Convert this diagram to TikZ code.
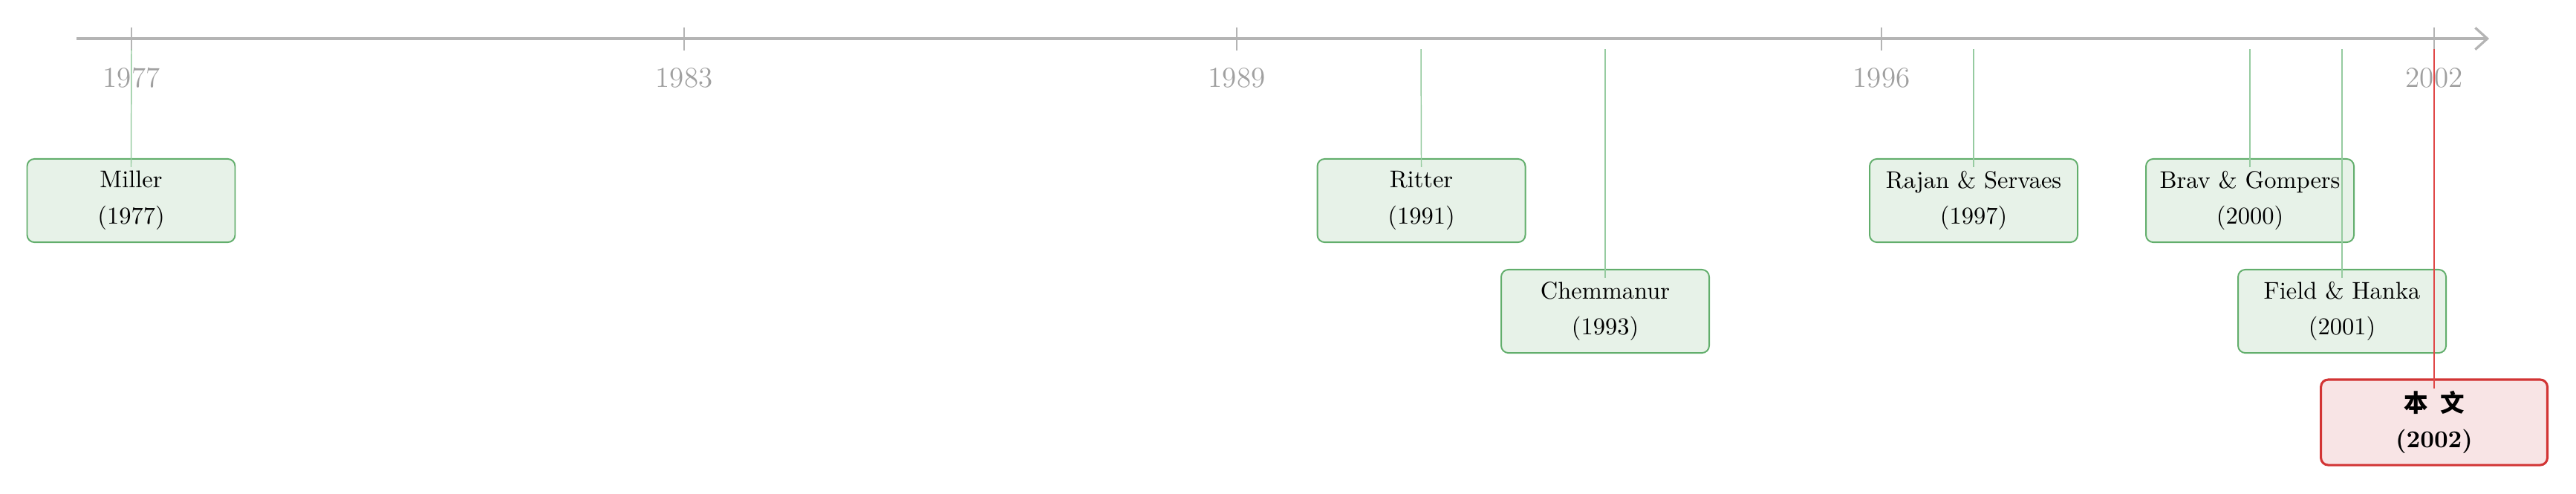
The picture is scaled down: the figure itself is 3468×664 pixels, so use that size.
\documentclass[tikz,border=0pt]{standalone}
\usepackage{fontspec}
\newfontfamily\cjk{Noto Sans CJK SC}
\usetikzlibrary{arrows.meta,calc}
\definecolor{axisgray}{HTML}{B4B4B4}
\definecolor{yeargray}{HTML}{A0A0A0}
\definecolor{gborder}{HTML}{62AE6C}
\definecolor{gfill}{HTML}{E7F2E8}
\definecolor{gline}{HTML}{96CBA0}
\definecolor{rborder}{HTML}{D23434}
\definecolor{rfill}{HTML}{F8E4E5}
\definecolor{rline}{HTML}{E04848}
\tikzset{
  paperbox/.style={draw=gborder, fill=gfill, line width=0.6pt, rounded corners=3pt,
    minimum width=86.15pt, minimum height=34.5pt, align=center, inner sep=2pt,
    font=\fontsize{10}{15}\selectfont},
  ourbox/.style={draw=rborder, fill=rfill, line width=0.95pt, rounded corners=3pt,
    minimum width=93.8pt, minimum height=35.4pt, align=center, inner sep=2pt,
    font=\fontsize{10}{15}\selectfont\bfseries},
  yearlabel/.style={text=yeargray, font=\fontsize{12}{14}\selectfont, inner sep=0pt},
  axisline/.style={draw=axisgray, line width=1pt},
  tickline/.style={draw=axisgray, line width=0.4pt},
  gconn/.style={draw=gline, line width=0.45pt},
  rconn/.style={draw=rline, line width=0.55pt}
}
\begin{document}
\begin{tikzpicture}[x=0.3077pt, y=-0.3077pt]
\useasboundingbox (0,0) rectangle (3468,664);
% axis
\coordinate (axs) at (103,52);
\coordinate (axe) at (3351,52);
\draw[axisline, -{Straight Barb[length=5pt,width=9pt,line width=1pt]}] (axs) -- (axe);
% ticks and year labels
\foreach \yr/\xx in {1977/177, 1983/921, 1989/1665, 1996/2533, 2002/3277}{
  \coordinate (tk\yr a) at (\xx,37);
  \coordinate (tk\yr b) at (\xx,68);
  \draw[tickline] (tk\yr a) -- (tk\yr b);
  \node[yearlabel] (yl\yr) at (\xx,105) {\yr};
}
% boxes
\node[paperbox] (miller) at (176.5,270) {Miller\\(1977)};
\node[paperbox] (ritter) at (1913.5,270) {Ritter\\(1991)};
\node[paperbox] (chem) at (2161,419) {Chemmanur\\(1993)};
\node[paperbox] (rajan) at (2657,270) {Rajan \& Servaes\\(1997)};
\node[paperbox] (brav) at (3029,270) {Brav \& Gompers\\(2000)};
\node[paperbox] (field) at (3153,419) {Field \& Hanka\\(2001)};
\node[ourbox] (ours) at (3277,568.5) {{\cjk 本\hspace{5pt}文}\\(2002)};
% connector start points
\coordinate (c1977) at (177,66);
\coordinate (c1991) at (1913,66);
\coordinate (c1993) at (2161,66);
\coordinate (c1997) at (2657,66);
\coordinate (c2000) at (3029,66);
\coordinate (c2001) at (3153,66);
\coordinate (c2002) at (3277,66);
% connectors
\draw[gconn] (c1977) -- ($(miller.north)+(0,12)$);
\draw[gconn] (c1991) -- ($(ritter.north)+(0,12)$);
\draw[gconn] (c1993) -- ($(chem.north)+(0,12)$);
\draw[gconn] (c1997) -- ($(rajan.north)+(0,12)$);
\draw[gconn] (c2000) -- ($(brav.north)+(0,12)$);
\draw[gconn] (c2001) -- ($(field.north)+(0,12)$);
\draw[rconn] (c2002) -- ($(ours.north)+(0,14)$);
\end{tikzpicture}
\end{document}
